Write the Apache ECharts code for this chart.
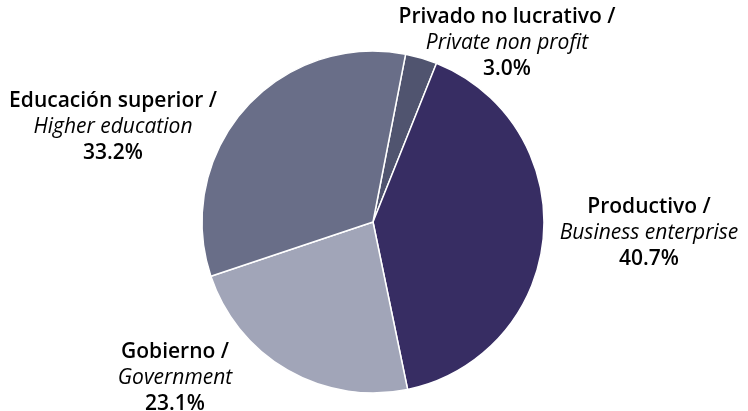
<!DOCTYPE html>
<html>
<head>
<meta charset="utf-8">
<script src="https://cdn.jsdelivr.net/npm/echarts@6/dist/echarts.min.js"></script>
<style>
  html, body { margin: 0; padding: 0; background: #fff; }
  #chart { width: 748px; height: 411px; }
</style>
</head>
<body>
<div id="chart"></div>
<script>
// 数据
const namesEs = ['Privado no lucrativo', 'Productivo', 'Gobierno', 'Educación superior']
const namesEn = ['Private non profit', 'Business enterprise', 'Government', 'Higher education']
const shares = [3.0, 40.7, 23.1, 33.2]

const colors = ['#50546f', '#372d63', '#a1a5b8', '#696e88']
// 标签中心位置
const labelPos = [[507, 43], [649, 233], [175, 378], [113, 127]]

const chart = echarts.init(document.getElementById('chart'))

const seriesData = shares.map((v, i) => {
  return {
    name: namesEs[i],
    value: v,
    itemStyle: { color: colors[i] },
  }
})

chart.setOption({
  animation: false,
  series: [{
    type: 'pie',
    center: [373, 222],
    radius: 171,
    startAngle: 79,
    clockwise: true,
    data: seriesData,
    itemStyle: { borderColor: '#fff', borderWidth: 1.5 },
    labelLine: { show: false },
    label: {
      show: true,
      position: 'outside',
      align: 'center',
      overflow: 'none',
      fontFamily: 'Open Sans',
      color: '#000',
      formatter: (p) => {
        return '{b|' + p.name + ' /}\n{i|' + namesEn[p.dataIndex] + '}\n{b|' + p.value.toFixed(1) + '%}'
      },
      rich: {
        b: { fontFamily: 'Open Sans', fontWeight: 600, fontSize: 21, lineHeight: 26, color: '#000', align: 'center' },
        i: { fontFamily: 'Open Sans', fontStyle: 'italic', fontSize: 21, lineHeight: 26, color: '#000', align: 'center' },
      },
    },
    labelLayout: (params) => {
      const pos = labelPos[params.dataIndex]
      return { x: pos[0], y: pos[1], align: 'center', verticalAlign: 'middle' }
    },
  }],
})
</script>
</body>
</html>
